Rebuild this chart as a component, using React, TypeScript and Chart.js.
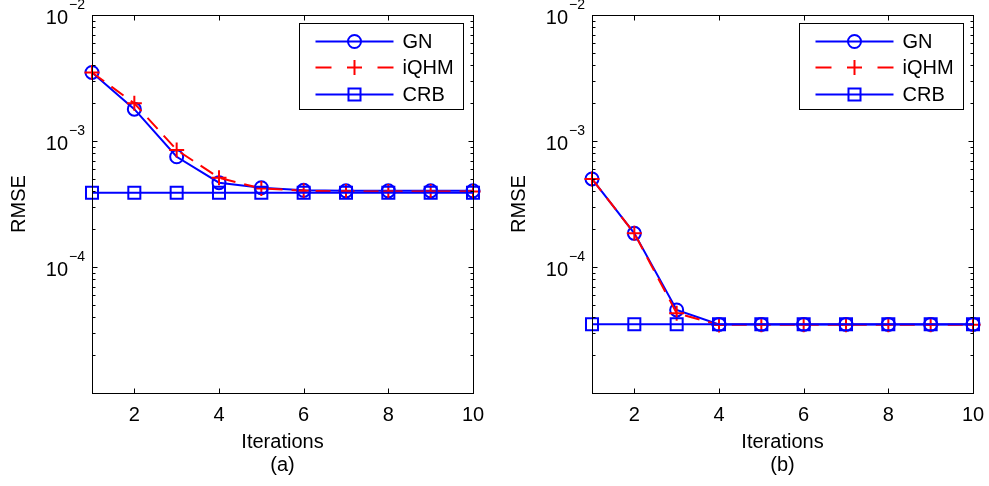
import React, { useEffect, useRef } from 'react';
import { Chart, registerables } from 'chart.js';

Chart.register(...registerables);

const iterations = [1, 2, 3, 4, 5, 6, 7, 8, 9, 10];
const xTickValues = [2, 4, 6, 8, 10];
const yTickExponents = [-2, -3, -4];
const seriesNames = ['GN', 'iQHM', 'CRB'];

// Panel (a)
const gnA = [3.5e-3, 1.79e-3, 7.5e-4, 4.67e-4, 4.26e-4, 4.06e-4, 4.02e-4, 4.02e-4, 4.02e-4, 4.02e-4];
const iqhmA = [3.5e-3, 1.99e-3, 8.5e-4, 5.1e-4, 4.2e-4, 4.03e-4, 3.98e-4, 3.98e-4, 3.98e-4, 3.98e-4];
const crbA = [3.89e-4, 3.89e-4, 3.89e-4, 3.89e-4, 3.89e-4, 3.89e-4, 3.89e-4, 3.89e-4, 3.89e-4, 3.89e-4];

// Panel (b)
const gnB = [5.0e-4, 1.85e-4, 4.56e-5, 3.5e-5, 3.5e-5, 3.5e-5, 3.5e-5, 3.5e-5, 3.5e-5, 3.5e-5];
const iqhmB = [5.0e-4, 1.85e-4, 4.3e-5, 3.47e-5, 3.48e-5, 3.48e-5, 3.48e-5, 3.48e-5, 3.48e-5, 3.48e-5];
const crbB = [3.51e-5, 3.51e-5, 3.51e-5, 3.51e-5, 3.51e-5, 3.51e-5, 3.51e-5, 3.51e-5, 3.51e-5, 3.51e-5];

const FONT = '"Liberation Sans", Arial, Helvetica, sans-serif';
const BLUE = '#0000ff';
const RED = '#ff0000';

function drawMarker(ctx: CanvasRenderingContext2D, style: string, x: number, y: number, r: number) {
  ctx.beginPath();
  if (style === 'circle') {
    ctx.arc(x, y, r, 0, Math.PI * 2);
  } else if (style === 'rect') {
    const s = r * Math.SQRT1_2;
    ctx.rect(x - s, y - s, 2 * s, 2 * s);
  } else if (style === 'cross') {
    ctx.moveTo(x - r, y);
    ctx.lineTo(x + r, y);
    ctx.moveTo(x, y - r);
    ctx.lineTo(x, y + r);
  }
  ctx.stroke();
}

function makeAxesPlugin(caption: string) {
  return {
    id: 'matlabAxes',
    afterDraw(chart: any) {
      const { ctx, chartArea: a, scales } = chart;
      const xs = scales.x;
      const ys = scales.y;
      ctx.save();
      ctx.setLineDash([]);
      ctx.strokeStyle = '#000';
      ctx.lineWidth = 1;
      const L = Math.round(a.left) + 0.5;
      const R = Math.round(a.right) + 0.5;
      const T = Math.round(a.top) + 0.5;
      const B = Math.round(a.bottom) + 0.5;
      ctx.strokeRect(L, T, R - L, B - T);

      // x ticks (inside, top and bottom)
      ctx.beginPath();
      for (const v of xTickValues) {
        const px = Math.round(xs.getPixelForValue(v)) + 0.5;
        ctx.moveTo(px, B);
        ctx.lineTo(px, B - 5);
        ctx.moveTo(px, T);
        ctx.lineTo(px, T + 5);
      }
      // y ticks (log, major + minor)
      for (let k = -5; k <= -2; k++) {
        for (let m = 1; m <= 9; m++) {
          if (k === -2 && m > 1) break;
          const v = m * Math.pow(10, k);
          const py = Math.round(ys.getPixelForValue(v)) + 0.5;
          const len = m === 1 ? 5 : 3;
          ctx.moveTo(L, py);
          ctx.lineTo(L + len, py);
          ctx.moveTo(R, py);
          ctx.lineTo(R - len, py);
        }
      }
      ctx.stroke();

      // x tick labels
      ctx.fillStyle = '#000';
      ctx.font = `20px ${FONT}`;
      ctx.textAlign = 'center';
      ctx.textBaseline = 'alphabetic';
      for (const v of xTickValues) {
        ctx.fillText(String(v), xs.getPixelForValue(v), a.bottom + 28);
      }

      // y tick labels 10^k
      for (const e of yTickExponents) {
        const py = ys.getPixelForValue(Math.pow(10, e));
        const expText = '\u2212' + String(Math.abs(e));
        ctx.font = `14px ${FONT}`;
        const expW = ctx.measureText(expText).width;
        const expRight = a.left - 7;
        const expLeft = expRight - expW;
        ctx.textAlign = 'left';
        ctx.fillText(expText, expLeft, py - 6);
        ctx.font = `20px ${FONT}`;
        ctx.textAlign = 'right';
        ctx.fillText('10', expLeft - 1, py + 8.5);
      }

      // axis titles
      ctx.font = `20px ${FONT}`;
      ctx.textAlign = 'center';
      const cx = (a.left + a.right) / 2;
      ctx.fillText('Iterations', cx, a.bottom + 55);
      ctx.fillText(caption, cx, a.bottom + 78);
      ctx.save();
      ctx.translate(a.left - 72.5, (a.top + a.bottom) / 2);
      ctx.rotate(-Math.PI / 2);
      ctx.textBaseline = 'middle';
      ctx.fillText('RMSE', 0, 0);
      ctx.restore();

      // legend
      const bw = 164;
      const bh = 86;
      const bx = Math.round(a.right - 10 - bw) + 0.5;
      const by = Math.round(a.top + 8) + 0.5;
      ctx.fillStyle = '#fff';
      ctx.fillRect(bx, by, bw, bh);
      ctx.strokeStyle = '#000';
      ctx.lineWidth = 1;
      ctx.strokeRect(bx, by, bw, bh);
      const rowsY = [18, 44, 71];
      chart.data.datasets.forEach((ds: any, i: number) => {
        const yy = by + rowsY[i];
        ctx.strokeStyle = ds.borderColor;
        ctx.lineWidth = 2;
        ctx.setLineDash(ds.borderDash ? [16, 46] : []);
        ctx.beginPath();
        ctx.moveTo(bx + 16, yy);
        ctx.lineTo(bx + 94, yy);
        ctx.stroke();
        ctx.setLineDash([]);
        drawMarker(ctx, ds.pointStyle, bx + 55, yy, ds.pointRadius);
        ctx.fillStyle = '#000';
        ctx.font = `20px ${FONT}`;
        ctx.textAlign = 'left';
        ctx.textBaseline = 'middle';
        ctx.fillText(ds.label, bx + 103, yy + 1);
        ctx.textBaseline = 'alphabetic';
      });
      ctx.restore();
    },
  };
}

type PanelProps = {
  gn: number[];
  iqhm: number[];
  crb: number[];
  caption: string;
  width: number;
  padLeft: number;
  padRight: number;
};

function Panel({ gn, iqhm, crb, caption, width, padLeft, padRight }: PanelProps) {
  const ref = useRef<HTMLCanvasElement | null>(null);
  useEffect(() => {
    if (!ref.current) return;
    const chart = new Chart(ref.current, {
      type: 'line',
      data: {
        labels: iterations,
        datasets: [
          {
            label: seriesNames[0],
            data: iterations.map((x, i) => ({ x, y: gn[i] })),
            borderColor: BLUE,
            borderWidth: 2,
            pointStyle: 'circle',
            pointRadius: 6.5,
            pointBorderWidth: 2,
            pointBorderColor: BLUE,
            pointBackgroundColor: 'rgba(0,0,0,0)',
            fill: false,
            tension: 0,
            clip: false,
            order: 2,
          } as any,
          {
            label: seriesNames[1],
            data: iterations.map((x, i) => ({ x, y: iqhm[i] })),
            borderColor: RED,
            borderWidth: 2,
            borderDash: [15, 9],
            pointStyle: 'cross',
            pointRadius: 7.5,
            pointBorderWidth: 2,
            pointBorderColor: RED,
            pointBackgroundColor: 'rgba(0,0,0,0)',
            fill: false,
            tension: 0,
            clip: false,
            order: 1,
          } as any,
          {
            label: seriesNames[2],
            data: iterations.map((x, i) => ({ x, y: crb[i] })),
            borderColor: BLUE,
            borderWidth: 2,
            pointStyle: 'rect',
            pointRadius: 8.5,
            pointBorderWidth: 2,
            pointBorderColor: BLUE,
            pointBackgroundColor: 'rgba(0,0,0,0)',
            fill: false,
            tension: 0,
            clip: false,
            order: 0,
          } as any,
        ],
      },
      options: {
        responsive: false,
        animation: false,
        events: [],
        layout: { padding: { left: padLeft, right: padRight, top: 15, bottom: 93 } },
        plugins: { legend: { display: false }, tooltip: { enabled: false }, title: { display: false } },
        scales: {
          x: { type: 'linear', min: 1, max: 10, display: false },
          y: { type: 'logarithmic', min: 1e-5, max: 1e-2, display: false },
        },
      },
      plugins: [makeAxesPlugin(caption)],
    });
    return () => chart.destroy();
  }, []);
  return <canvas ref={ref} width={width} height={486} style={{ display: 'block', width, height: 486 }} />;
}

export default function App() {
  return (
    <div style={{ position: 'fixed', left: 0, top: 0, width: 989, height: 486, display: 'flex', background: '#fff' }}>
      <Panel gn={gnA} iqhm={iqhmA} crb={crbA} caption="(a)" width={495} padLeft={92} padRight={22} />
      <Panel gn={gnB} iqhm={iqhmB} crb={crbB} caption="(b)" width={494} padLeft={97} padRight={16} />
    </div>
  );
}
